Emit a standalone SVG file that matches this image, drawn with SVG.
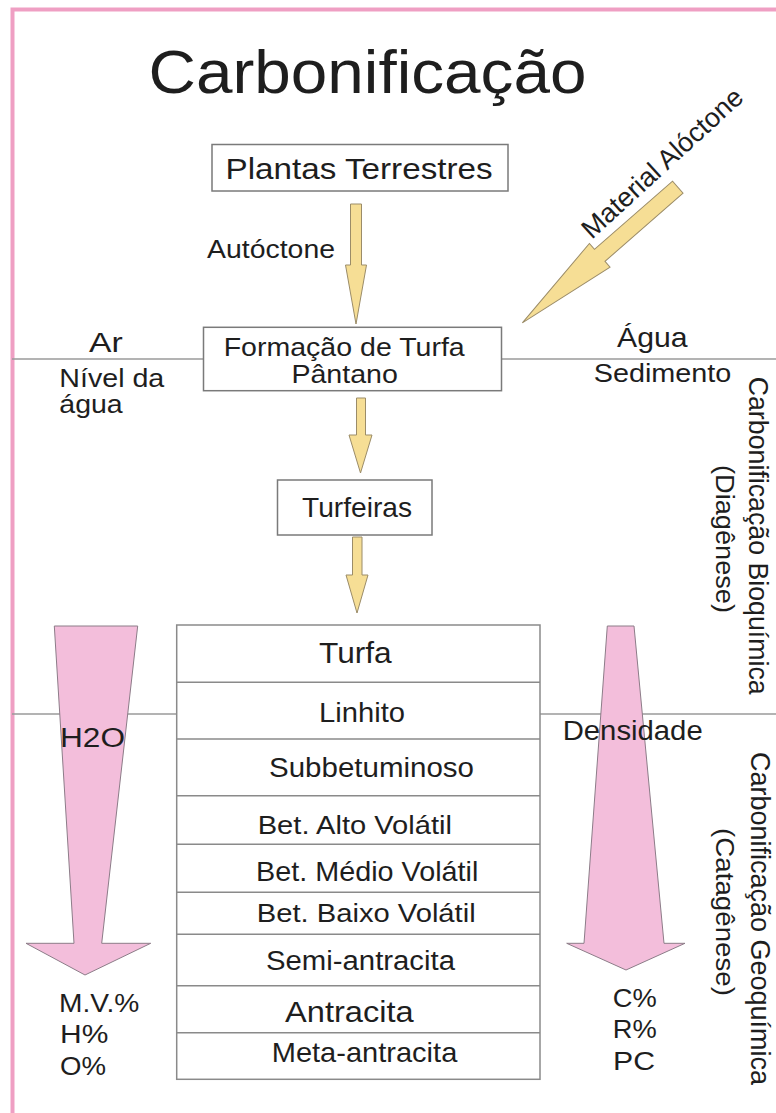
<svg xmlns="http://www.w3.org/2000/svg" width="776" height="1113" viewBox="0 0 776 1113">
<style>
text{font-family:"Liberation Sans",Arial,sans-serif;fill:#1e1e1e}
.box{fill:#fff;stroke:#7a7a7a;stroke-width:1.5}
.rule{stroke:#9a9a9a;stroke-width:1.5;fill:none}
.yel{fill:#f6de95;stroke:#9b8c68;stroke-width:1}
.pink{fill:#f3bedb;stroke:#8c7c88;stroke-width:1}
.cell{fill:none;stroke:#8a8a8a;stroke-width:1.5}
</style>
<rect x="0" y="0" width="776" height="1113" fill="#fff"/>
<rect x="12.5" y="9.5" width="800" height="1200" fill="none" stroke="#ef9fc3" stroke-width="4"/>

<g id="levels">
<line class="rule" x1="12" y1="359" x2="204" y2="359"/>
<line class="rule" x1="501" y1="359" x2="776" y2="359"/>
<line class="rule" x1="12" y1="714" x2="177" y2="714"/>
<line class="rule" x1="540" y1="714" x2="776" y2="714"/>
</g>

<g id="title"><text x="148.5" y="92.5" font-size="62" textLength="438" lengthAdjust="spacingAndGlyphs">Carbonificação</text></g>

<g id="connectors">
<polygon class="yel" points="350.5,204 361.5,204 361.5,265 366.5,265 356,324 345.5,265 350.5,265"/>
<polygon class="yel" points="356.5,398 365.5,398 365.5,435 372,435 360.5,473 349,435 356.5,435"/>
<polygon class="yel" points="352.5,537 362,537 362,575 368,575 357,613 346,575 352.5,575"/>
<polygon class="yel" transform="translate(677.8,187.2) rotate(138.9)" points="0,-8 103.6,-8 103.6,-15.7 206.3,0 103.6,15.7 103.6,8 0,8"/>
<polygon class="pink" points="54.3,626 137.7,626 101.7,943.3 150.7,943.3 85,975 26,943.3 74,943.3"/>
<polygon class="pink" points="607.3,626 634,626 664,943.3 685,943.3 626,970 566.7,943.3 584,943.3"/>
</g>

<g id="plantas"><rect class="box" x="212" y="144.5" width="296" height="46.5"/>
<text x="225.6" y="179" font-size="29.5" textLength="267" lengthAdjust="spacingAndGlyphs">Plantas Terrestres</text></g>
<g id="autoctone"><text x="207" y="257.7" font-size="26.5" textLength="128" lengthAdjust="spacingAndGlyphs">Autóctone</text></g>
<g id="aloctone"><text transform="translate(591.7,240) rotate(-42.5)" font-size="27" textLength="208" lengthAdjust="spacingAndGlyphs">Material Alóctone</text></g>

<g id="formacao"><rect class="box" x="203.5" y="327.3" width="298" height="63.4"/>
<text x="223.7" y="355.5" font-size="26.5" textLength="241" lengthAdjust="spacingAndGlyphs">Formação de Turfa</text>
<text x="291.4" y="383" font-size="26.5" textLength="106.5" lengthAdjust="spacingAndGlyphs">Pântano</text></g>

<g id="ar"><text x="89" y="351.7" font-size="27.5" textLength="33.7" lengthAdjust="spacingAndGlyphs">Ar</text></g>
<g id="nivel"><text x="59.3" y="386.7" font-size="25" textLength="105" lengthAdjust="spacingAndGlyphs">Nível da</text>
<text x="59.3" y="413.3" font-size="25" textLength="63.4" lengthAdjust="spacingAndGlyphs">água</text></g>
<g id="agua"><text x="617" y="347.3" font-size="27.5" textLength="70.6" lengthAdjust="spacingAndGlyphs">Água</text></g>
<g id="sedimento"><text x="593.7" y="382.3" font-size="26.5" textLength="137.6" lengthAdjust="spacingAndGlyphs">Sedimento</text></g>

<g id="turfeiras"><rect class="box" x="277.5" y="480" width="154.5" height="55"/>
<text x="302" y="517" font-size="27.5" textLength="110" lengthAdjust="spacingAndGlyphs">Turfeiras</text></g>

<g id="bioquimica">
<text transform="translate(749,376.7) rotate(90)" font-size="27.5" textLength="318" lengthAdjust="spacingAndGlyphs">Carbonificação Bioquímica</text>
<text transform="translate(716,465) rotate(90)" font-size="26.5" textLength="148" lengthAdjust="spacingAndGlyphs">(Diagênese)</text>
</g>
<g id="geoquimica">
<text transform="translate(751,752) rotate(90)" font-size="27.5" textLength="333" lengthAdjust="spacingAndGlyphs">Carbonificação Geoquímica</text>
<text transform="translate(716,828) rotate(90)" font-size="26.5" textLength="168" lengthAdjust="spacingAndGlyphs">(Catagênese)</text>
</g>

<g id="rank-table">
<rect class="cell" x="176.7" y="625" width="363.3" height="454.3"/>
<line class="cell" x1="176.7" y1="682.3" x2="540" y2="682.3"/>
<line class="cell" x1="176.7" y1="739" x2="540" y2="739"/>
<line class="cell" x1="176.7" y1="795.7" x2="540" y2="795.7"/>
<line class="cell" x1="176.7" y1="844.3" x2="540" y2="844.3"/>
<line class="cell" x1="176.7" y1="892.3" x2="540" y2="892.3"/>
<line class="cell" x1="176.7" y1="934.3" x2="540" y2="934.3"/>
<line class="cell" x1="176.7" y1="985.7" x2="540" y2="985.7"/>
<line class="cell" x1="176.7" y1="1032.7" x2="540" y2="1032.7"/>
<text x="319" y="662.7" font-size="29.5" textLength="72.7" lengthAdjust="spacingAndGlyphs">Turfa</text>
<text x="319" y="721.7" font-size="28" textLength="86" lengthAdjust="spacingAndGlyphs">Linhito</text>
<text x="269" y="777.3" font-size="27.5" textLength="205" lengthAdjust="spacingAndGlyphs">Subbetuminoso</text>
<text x="257.7" y="834.3" font-size="26.5" textLength="194.3" lengthAdjust="spacingAndGlyphs">Bet. Alto Volátil</text>
<text x="256" y="881" font-size="28" textLength="222.3" lengthAdjust="spacingAndGlyphs">Bet. Médio Volátil</text>
<text x="256.7" y="921.7" font-size="26.5" textLength="219" lengthAdjust="spacingAndGlyphs">Bet. Baixo Volátil</text>
<text x="266" y="970" font-size="27" textLength="189" lengthAdjust="spacingAndGlyphs">Semi-antracita</text>
<text x="285" y="1021.7" font-size="29" textLength="128.7" lengthAdjust="spacingAndGlyphs">Antracita</text>
<text x="271.7" y="1061.7" font-size="28" textLength="185.6" lengthAdjust="spacingAndGlyphs">Meta-antracita</text>
</g>

<g id="h2o"><text x="60" y="746.7" font-size="27" textLength="65" lengthAdjust="spacingAndGlyphs">H2O</text></g>
<g id="densidade"><text x="562.7" y="740" font-size="27" textLength="140" lengthAdjust="spacingAndGlyphs">Densidade</text></g>
<g id="left-params">
<text x="59" y="1011.7" font-size="25" textLength="80.3" lengthAdjust="spacingAndGlyphs">M.V.%</text>
<text x="60" y="1043.3" font-size="25" textLength="48.3" lengthAdjust="spacingAndGlyphs">H%</text>
<text x="60" y="1075" font-size="25" textLength="46" lengthAdjust="spacingAndGlyphs">O%</text>
</g>
<g id="right-params">
<text x="612.7" y="1007.3" font-size="25" textLength="44" lengthAdjust="spacingAndGlyphs">C%</text>
<text x="612.7" y="1037.7" font-size="25" textLength="44" lengthAdjust="spacingAndGlyphs">R%</text>
<text x="613" y="1070" font-size="25" textLength="42" lengthAdjust="spacingAndGlyphs">PC</text>
</g>
</svg>
